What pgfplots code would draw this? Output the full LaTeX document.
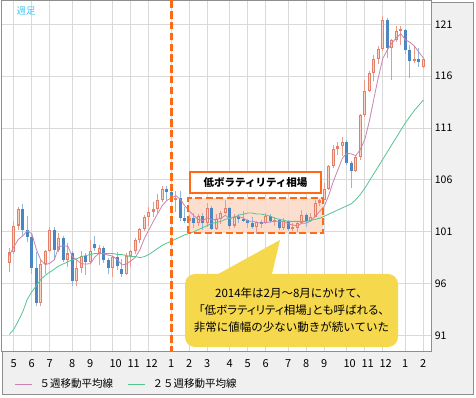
\documentclass[border=0pt]{standalone}
\usepackage{fontspec}
\setmainfont{Noto Sans CJK JP}
\usepackage{pgfplots}
\pgfplotsset{compat=1.18}
\usepackage{pgfplotstable}
\definecolor{upc}{HTML}{E3806A}
\definecolor{upfill}{HTML}{F8D3C6}
\definecolor{upwick}{HTML}{EC9A88}
\definecolor{dnc}{HTML}{4A87C2}
\definecolor{dnwick}{HTML}{8FB8DE}
\definecolor{maf}{HTML}{C985AD}
\definecolor{mas}{HTML}{55C58F}
\definecolor{grd}{HTML}{D9D9D9}
\definecolor{frm}{HTML}{8E8E8E}
\definecolor{bg}{HTML}{F0F0F0}
\definecolor{org}{HTML}{FF6A14}
\definecolor{boxfill}{HTML}{FCD9C6}
\definecolor{callout}{HTML}{F6D84C}
\definecolor{cyanl}{HTML}{4CC6EE}

\pgfplotstableread{
w O H L C
-36 98.0 99.4 97.1 99.0
-35 99.0 102.0 98.9 101.6
-34 101.6 103.4 101.2 103.2
-33 103.2 103.7 100.6 101.2
-32 101.2 102.5 100.0 100.5
-31 100.5 100.9 96.9 97.5
-30 97.5 99.0 93.8 94.1
-29 94.1 98.3 93.8 97.9
-28 97.9 99.2 96.9 99.1
-27 99.1 101.5 99.0 101.2
-26 101.2 101.5 98.3 99.2
-25 99.2 100.9 99.0 100.4
-24 100.4 100.6 98.1 98.3
-23 98.3 99.9 97.6 98.9
-22 98.9 99.1 95.8 96.2
-21 96.2 98.4 95.8 97.5
-20 97.5 99.1 97.0 98.7
-19 98.7 98.9 96.8 98.1
-18 98.1 100.2 98.0 99.1
-17 99.8 100.6 99.1 99.4
-16 98.9 99.7 97.8 99.4
-15 99.4 99.6 98.0 98.3
-14 98.3 98.5 96.9 97.5
-13 97.5 98.7 96.6 98.6
-12 98.6 99.0 97.3 97.7
-11 97.4 98.4 96.6 96.9
-10 96.9 98.9 96.8 98.7
-9 98.7 99.2 97.6 99.1
-8 99.1 100.4 98.9 100.2
-7 100.2 101.4 99.9 101.3
-6 101.3 102.6 101.1 102.4
-5 102.4 103.4 101.6 102.9
-4 102.9 103.9 102.4 103.2
-3 103.2 104.6 102.8 104.1
-2 104.1 105.4 103.9 105.1
-1 105.1 105.4 104.1 104.8
0 104.8 105.4 103.9 104.1
1 104.1 104.9 102.9 104.3
2 104.3 104.9 102.0 102.3
3 102.3 103.4 101.8 102.0
4 102.0 102.6 100.8 102.3
5 102.3 102.8 101.4 101.8
6 101.8 102.7 101.6 102.5
7 102.5 102.8 101.2 101.8
8 101.8 103.8 101.5 103.3
9 103.3 103.5 101.2 101.3
10 101.3 102.7 101.2 102.2
11 102.2 103.0 101.7 102.8
12 102.8 104.1 102.7 103.3
13 103.3 103.4 101.3 101.6
14 101.6 102.7 101.4 102.4
15 102.4 102.7 101.8 102.2
16 102.2 103.0 101.9 102.1
17 102.1 102.2 101.4 101.8
18 101.8 102.4 101.3 101.5
19 101.5 102.0 100.8 101.9
20 101.9 102.1 101.4 101.8
21 101.8 102.8 101.7 102.5
22 102.5 102.7 101.8 102.0
23 102.0 102.4 101.6 102.1
24 102.1 102.2 101.2 101.4
25 101.4 102.3 101.2 102.0
26 102.0 102.1 101.1 101.3
27 101.3 101.8 101.1 101.4
28 101.4 101.9 101.0 101.8
29 101.8 103.1 101.7 102.6
30 102.6 102.8 101.5 102.0
31 102.0 102.8 101.9 102.4
32 102.4 104.1 102.4 103.8
33 103.8 104.2 103.5 104.1
34 104.1 105.7 104.1 105.1
35 105.1 107.4 105.0 107.3
36 107.3 109.4 107.1 109.0
37 109.0 109.7 108.4 109.3
38 109.3 110.1 108.3 109.7
39 109.7 109.8 107.4 107.6
40 107.6 107.8 105.2 106.9
41 106.9 108.4 106.8 108.2
42 108.2 112.4 107.9 112.3
43 112.3 115.6 112.1 114.6
44 114.6 116.5 114.5 116.3
45 116.3 118.0 115.5 117.7
46 117.7 118.9 117.2 118.6
47 118.6 121.8 118.4 121.4
48 121.4 121.6 117.8 118.7
49 118.7 119.6 115.6 119.5
50 119.5 120.8 119.3 120.4
51 120.4 120.8 119.0 120.5
52 120.5 120.6 118.1 118.5
53 118.5 119.0 115.8 117.5
54 117.5 118.9 117.3 117.7
55 117.7 118.7 116.9 117.4
56 116.9 117.8 116.8 117.7
}\candles

\pgfplotstableread{
w m
-36 98.72
-35 99.54
-34 100.26
-33 100.60
-32 101.10
-31 100.80
-30 99.30
-29 98.24
-28 97.82
-27 97.96
-26 98.30
-25 99.56
-24 99.64
-23 99.60
-22 98.60
-21 98.26
-20 97.92
-19 97.88
-18 97.92
-17 98.56
-16 98.94
-15 98.86
-14 98.74
-13 98.64
-12 98.30
-11 97.80
-10 97.88
-9 98.20
-8 98.52
-7 99.24
-6 100.34
-5 101.18
-4 102.00
-3 102.78
-2 103.54
-1 104.02
0 104.26
1 104.48
2 104.12
3 103.50
4 103.00
5 102.54
6 102.18
7 102.08
8 102.34
9 102.14
10 102.22
11 102.28
12 102.58
13 102.24
14 102.46
15 102.46
16 102.32
17 102.02
18 102.00
19 101.90
20 101.82
21 101.90
22 101.94
23 102.06
24 101.96
25 102.00
26 101.76
27 101.64
28 101.58
29 101.82
30 101.82
31 102.04
32 102.52
33 102.98
34 103.48
35 104.54
36 105.86
37 106.96
38 108.08
39 108.58
40 108.50
41 108.34
42 108.94
43 109.92
44 111.66
45 113.82
46 115.90
47 117.72
48 118.54
49 119.18
50 119.72
51 120.10
52 119.52
53 119.28
54 118.92
55 118.32
56 117.76
}\mafive

\pgfplotstableread{
w m
-36 91.1
-35 91.6
-34 92.4
-33 93.3
-32 94.5
-31 95.2
-30 95.8
-29 96.4
-28 96.8
-27 97.1
-26 97.4
-25 97.7
-24 97.9
-23 98.1
-22 98.3
-21 98.4
-20 98.6
-19 98.7
-18 98.8
-17 98.9
-16 98.9
-15 98.9
-14 98.9
-13 98.9
-12 98.8
-11 98.8
-10 98.7
-9 98.6
-8 98.6
-7 98.5
-6 98.6
-5 98.8
-4 99.1
-3 99.4
-2 99.7
-1 99.9
0 100.1
1 100.3
2 100.5
3 100.7
4 100.85
5 101.0
6 101.2
7 101.4
8 101.6
9 101.8
10 101.9
11 102.0
12 102.2
13 102.3
14 102.4
15 102.6
16 102.7
17 102.8
18 102.8
19 102.7
20 102.7
21 102.6
22 102.5
23 102.3
24 102.2
25 102.1
26 102.0
27 102.0
28 102.0
29 102.0
30 102.0
31 102.1
32 102.2
33 102.3
34 102.5
35 102.7
36 102.9
37 103.1
38 103.3
39 103.5
40 103.7
41 104.1
42 104.6
43 105.2
44 105.9
45 106.6
46 107.3
47 108.0
48 108.7
49 109.4
50 110.1
51 110.8
52 111.5
53 112.1
54 112.7
55 113.2
56 113.7
}\matwentyfive

\begin{document}
\begin{tikzpicture}[x=1pt,y=1pt]
\useasboundingbox (0,0) rectangle (476,398);
\fill[bg] (2.5,3.5) rectangle (473.5,395.5);
\draw[frm, line width=0.8pt] (2.5,3.5) rectangle (473.5,395.5);
\begin{axis}[at={(3,45)}, anchor=south west, scale only axis,
  width=430pt, height=351pt,
  xmin=-37.78, xmax=57.78, ymin=89.46, ymax=123.32,
  axis background/.style={fill=white},
  axis line style={draw=frm, line width=0.8pt},
  xtick={-35,-31,-27,-22,-18,-13,-9,-5,0,4,8,13,17,21,26,30,34,39,43,47,52,56},
  xticklabels={5,6,7,8,9,10,11,12,1,2,3,4,5,6,7,8,9,10,11,12,1,2},
  ytick={91,96,101,106,111,116,121},
  yticklabel pos=right,
  major tick length=0pt,
  tick style={draw=none},
  xmajorgrids, ymajorgrids,
  major grid style={draw=grd, line width=1pt},
  /pgf/number format/assume math mode=true,
  xticklabel style={font=\fontsize{11}{12}\selectfont, anchor=north west, xshift=-6.8pt, yshift=-4.5pt},
  yticklabel style={font=\fontsize{10.5}{12}\selectfont, anchor=west},
  unbounded coords=discard,
]
\fill[boxfill, fill opacity=0.85] (axis cs:3.78,100.84) rectangle (axis cs:33.6,104.22);
% wicks
\addplot[draw=none, mark=none, forget plot,
  error bars/.cd, y dir=both, y explicit, error mark=none,
  error bar style={draw=upwick, line width=0.9pt}]
  table[x=w, y expr={\thisrow{C}>=\thisrow{O} ? (\thisrow{H}+\thisrow{L})/2 : nan},
        y error expr={(\thisrow{H}-\thisrow{L})/2}] {\candles};
\addplot[draw=none, mark=none, forget plot,
  error bars/.cd, y dir=both, y explicit, error mark=none,
  error bar style={draw=dnwick, line width=0.9pt}]
  table[x=w, y expr={\thisrow{C}<\thisrow{O} ? (\thisrow{H}+\thisrow{L})/2 : nan},
        y error expr={(\thisrow{H}-\thisrow{L})/2}] {\candles};
% bodies
\addplot[draw=none, mark=none, forget plot,
  error bars/.cd, y dir=both, y explicit, error mark=none,
  error bar style={draw=upc, line width=3.2pt}]
  table[x=w, y expr={\thisrow{C}>=\thisrow{O} ? (\thisrow{O}+\thisrow{C})/2 : nan},
        y error expr={max((\thisrow{C}-\thisrow{O})/2,0.06)}] {\candles};
\addplot[draw=none, mark=none, forget plot,
  error bars/.cd, y dir=both, y explicit, error mark=none,
  error bar style={draw=upfill, line width=1.2pt}]
  table[x=w, y expr={\thisrow{C}-\thisrow{O}>0.3 ? (\thisrow{O}+\thisrow{C})/2 : nan},
        y error expr={(\thisrow{C}-\thisrow{O})/2-0.1}] {\candles};
\addplot[draw=none, mark=none, forget plot,
  error bars/.cd, y dir=both, y explicit, error mark=none,
  error bar style={draw=dnc, line width=3.2pt}]
  table[x=w, y expr={\thisrow{C}<\thisrow{O} ? (\thisrow{O}+\thisrow{C})/2 : nan},
        y error expr={max((\thisrow{O}-\thisrow{C})/2,0.06)}] {\candles};
% moving averages
\addplot[maf, line width=0.8pt, mark=none] table[x=w, y=m] {\mafive};
\addplot[mas, line width=0.8pt, mark=none] table[x=w, y=m] {\matwentyfive};
% box border and vertical line
\draw[org, line width=2pt, dash pattern=on 7pt off 3.5pt] (axis cs:3.78,100.84) rectangle (axis cs:33.6,104.22);
\draw[org, line width=3.5pt, dash pattern=on 7.5pt off 3.3pt] (axis cs:0,123.32) -- (axis cs:0,89.46);
\end{axis}
% top-left label
\node[font=\fontsize{9.5}{10}\selectfont, text=cyanl, anchor=west] at (13,387) {週足};
% title box
\draw[org, line width=2.2pt, fill=white] (190,226) rectangle (321,205);
\node[font=\fontsize{10.5}{11}\selectfont\bfseries] at (255.5,215.5) {低ボラティリティ相場};
% callout
\fill[callout, rounded corners=10pt] (185,124) rectangle (398,51);
\fill[callout] (211,120) -- (280,158) -- (271,120) -- cycle;
\node[font=\fontsize{11.5}{17}\selectfont, align=center] at (291.5,88) {2014年は2月～8月にかけて、\\{\addfontfeature{RawFeature=+palt}「低ボラティリティ相場」とも呼ばれる、}\\非常に値幅の少ない動きが続いていた};
% legend
\draw[maf, line width=0.8pt] (15,14) -- (32,14);
\node[font=\fontsize{10.5}{11}\selectfont, anchor=west] at (36,14) {５週移動平均線};
\draw[mas, line width=0.8pt] (128,14) -- (145,14);
\node[font=\fontsize{10.5}{11}\selectfont, anchor=west] at (149,14) {２５週移動平均線};
\end{tikzpicture}
\end{document}
